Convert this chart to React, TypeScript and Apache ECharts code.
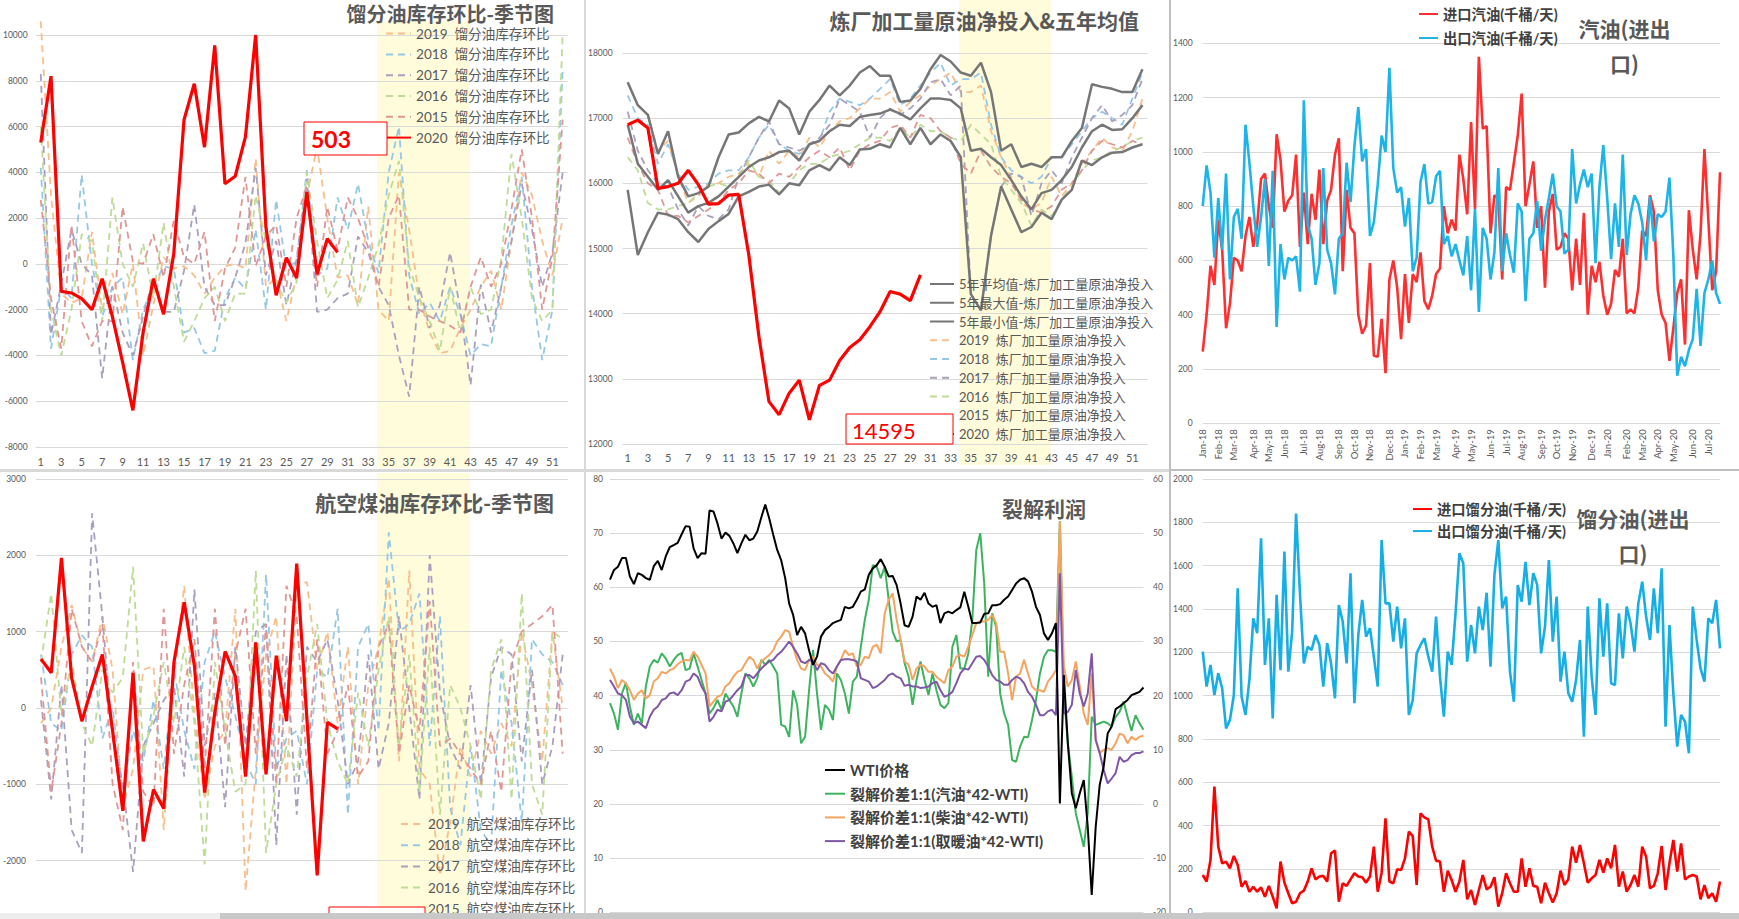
import React, { useEffect, useRef } from 'react';
import * as echarts from 'echarts';

const FONT = "Lato, 'Noto Sans CJK SC', sans-serif";
const CJK = "'Noto Sans CJK SC', Lato, sans-serif";
const GRAY = '#595959';
const GRID = '#D9D9D9';
const BAND = '#FFFCDB';

// ---------- categories ----------
const weekLabels = Array.from({ length: 52 }, (_, i) => String(i + 1));
const MON = ['Jan', 'Feb', 'Mar', 'Apr', 'May', 'Jun', 'Jul', 'Aug', 'Sep', 'Oct', 'Nov', 'Dec'];
const weeklyDates = (n: number) =>
  Array.from({ length: n }, (_, i) => new Date(Date.UTC(2018, 0, 5) + i * 7 * 86400000).toISOString().slice(0, 10));

// ---------- Panel A: 馏分油库存环比 ----------
const dist2020 = [5300, 8200, -1200, -1270, -1520, -2000, -650, -2300, -4300, -6400, -3000, -650, -2200, 450, 6300, 7870, 5100, 9550, 3500, 3830, 5550, 10000, 1600, -1370, 270, -620, 3140, -450, 1100, 503];
const dist2019 = [10600, 3000, -1300, -1700, -1500, 1400, -2000, -400, -2200, 0, -4000, -1800, 300, -200, -100, -500, -1300, -600, -100, 0, -200, 4600, -1000, -600, -2500, -500, 3000, 5100, 2000, -600, -500, -1800, 2500, -2000, -2500, 4000, 1500, -1500, -3000, -3900, -3800, -2800, -2000, -1000, -300, -2000, 1000, 4000, 3000, 1000, -500, 2000];
const dist2018 = [4200, -3700, -1000, -1500, 3900, 0, -2300, -1000, -600, -4200, -2000, -1000, -100, -200, -3000, -2800, -3900, -3800, -1500, -600, -1100, 1500, -2000, 2800, -200, 100, 4100, -500, -200, 2900, 1500, 3500, 1000, -400, 4000, 6000, -500, -2200, -1700, -2500, -1000, -2200, -4000, -3500, -3600, -1000, 1700, 3800, -1000, -4200, -2000, 8500];
const dist2017 = [8300, -3100, -900, 1500, 0, -500, -5000, -1000, -3000, -4000, -2300, -600, -2100, -2100, -300, 2600, -1000, -1800, -1800, -600, 900, 4200, -500, 1000, -1800, 200, 3700, -2100, -2000, -1500, -1300, 1200, 500, -1000, -1800, -4000, -5800, -1000, -2800, -1800, 500, -2000, -5300, -900, -3000, -1000, 1000, 3500, 1500, -1000, 500, 4000];
const dist2016 = [6000, -2000, -4000, -2000, 1300, 1000, -2500, 2900, 0, -1000, 900, -1500, 1800, -1000, -3400, -2500, -1500, -1000, -2500, -1300, -1300, 3000, 1000, -800, -1700, -800, 4000, 1000, -1500, -700, 1000, -1900, -600, 800, 3000, 4500, -100, -1500, -2500, -3800, -1000, -3000, -1000, -2200, -2000, 200, 4800, 2000, -1500, -2500, -2000, 10100];
const dist2015 = [2800, -1500, -3700, 1700, -2500, -3600, -2500, -2500, 2500, 100, 0, 1300, -600, 1900, 300, 0, 1400, -2500, -200, 700, 3800, -100, 1200, 1700, -1000, 2000, 3400, -1000, 2500, 600, 2900, 2000, 700, -1000, 2000, 3000, -2000, -2000, -2300, -2500, -2700, -3000, -1000, 300, -1000, 0, 2400, 5000, 2000, -2000, 300, 6300];

// ---------- Panel B: 炼厂加工量 ----------
const runsAvg = [16900, 16300, 16100, 15900, 16050, 15800, 15550, 15650, 15700, 15800, 15950, 16100, 16250, 16350, 16400, 16480, 16500, 16350, 16600, 16650, 16800, 16900, 16880, 17020, 17050, 17070, 17130, 17070, 16980, 17150, 17300, 17300, 17280, 17150, 16500, 16530, 16400, 16280, 16050, 15800, 15600, 15850, 15900, 16050, 16250, 16550, 16800, 16900, 16820, 16830, 17000, 17200];
const runsMax = [17550, 17200, 17050, 16450, 16800, 16100, 15800, 15850, 15950, 16400, 16750, 16780, 16920, 17020, 16950, 17270, 17150, 16750, 17100, 17280, 17500, 17350, 17500, 17700, 17800, 17650, 17650, 17250, 17270, 17450, 17750, 17970, 17870, 17700, 17650, 17850, 17400, 16500, 16600, 16250, 16300, 16250, 16400, 16400, 16650, 16850, 17520, 17480, 17450, 17400, 17400, 17750];
const runsMin = [15900, 14900, 15250, 15550, 15520, 15450, 15250, 15100, 15300, 15420, 15530, 15800, 15870, 15950, 15980, 15830, 16000, 15970, 16200, 16280, 16200, 16400, 16280, 16520, 16530, 16600, 16550, 16850, 16600, 16850, 16600, 16750, 16650, 16400, 14300, 14050, 15200, 15950, 15600, 15250, 15330, 15550, 15450, 15750, 15900, 16350, 16280, 16400, 16470, 16480, 16550, 16600];
const runs2020 = [16900, 16970, 16850, 15920, 15950, 16000, 16200, 15980, 15680, 15690, 15820, 15830, 14900, 13650, 12650, 12450, 12780, 12980, 12370, 12900, 12980, 13280, 13480, 13600, 13800, 14030, 14340, 14300, 14200, 14595];
const runs2019 = [17550, 17200, 17050, 16500, 16650, 16100, 15700, 15800, 16000, 16000, 16100, 16150, 16300, 16100, 16500, 16300, 16500, 16400, 16700, 16550, 16800, 16950, 17000, 17150, 17300, 17300, 17400, 17100, 17250, 17350, 17500, 17600, 17700, 17400, 17400, 17500, 16800, 16400, 16100, 15700, 15600, 15700, 16100, 15800, 16000, 16300, 16500, 16700, 16550, 16500, 16800, 17300];
const runs2018 = [17350, 17000, 16900, 16300, 16600, 16150, 15900, 15950, 16000, 16150, 16200, 16200, 16400, 16700, 16900, 16600, 16500, 16450, 16600, 16650, 17100, 17300, 17250, 17200, 17300, 17450, 17600, 17200, 17300, 17500, 17700, 17850, 17500, 17600, 17600, 17700, 16900, 16400, 16200, 16100, 16000, 16100, 16400, 16400, 16600, 16800, 17000, 17100, 17000, 16900, 17300, 17700];
const runs2017 = [17100, 16500, 16200, 16000, 15950, 15600, 15350, 15650, 15500, 15450, 15600, 16100, 16400, 16700, 16950, 16600, 16550, 16500, 16600, 16700, 16900, 17300, 17200, 17100, 16700, 17000, 17150, 17050, 17150, 17300, 17550, 17600, 17350, 17500, 14300, 14050, 15200, 15950, 16150, 16100, 15500, 16000, 16200, 16000, 16400, 16700, 17000, 17200, 16950, 17050, 17200, 17600];
const runs2016 = [16400, 16200, 15700, 15600, 15600, 15650, 15700, 15850, 15950, 16000, 15950, 16100, 16350, 16100, 16050, 15850, 16000, 16200, 16300, 16300, 16400, 16450, 16500, 16600, 16700, 16700, 16650, 16850, 16700, 16900, 16800, 16800, 16700, 16650, 16900, 16750, 16600, 16100, 15900, 15700, 15350, 15600, 15500, 15750, 15950, 16200, 16350, 16400, 16500, 16550, 16650, 16700];
const runs2015 = [16700, 16300, 16000, 15900, 15500, 15500, 15400, 15500, 15600, 15700, 15900, 16000, 16200, 16150, 16000, 16150, 16100, 16250, 16400, 16500, 16400, 16550, 16200, 16500, 16600, 16650, 16850, 16900, 16700, 17050, 17000, 16800, 16700, 16300, 16150, 16500, 16250, 16100, 16000, 15750, 15600, 15550, 15650, 15900, 16000, 16200, 16500, 16650, 16600, 16550, 16650, 16600];

// ---------- Panel C: 汽油进出口 ----------
const gasImport = [264, 400, 580, 510, 750, 640, 350, 440, 610, 600, 560, 690, 760, 650, 730, 900, 920, 800, 720, 1065, 970, 780, 820, 840, 990, 650, 850, 660, 845, 750, 935, 660, 820, 860, 990, 1050, 560, 860, 720, 700, 400, 330, 360, 590, 250, 245, 385, 185, 530, 600, 500, 310, 550, 370, 550, 520, 630, 450, 420, 470, 550, 570, 800, 700, 750, 710, 990, 900, 770, 1110, 790, 1350, 1085, 1095, 700, 840, 830, 530, 870, 860, 960, 1060, 1215, 800, 880, 965, 720, 800, 500, 780, 845, 640, 650, 700, 680, 490, 680, 510, 775, 400, 580, 520, 595, 470, 400, 440, 565, 540, 680, 405, 420, 405, 500, 710, 690, 840, 780, 490, 400, 370, 230, 350, 480, 530, 290, 785, 640, 530, 700, 1010, 750, 490, 560, 925];
const gasExport = [800, 950, 850, 610, 830, 640, 920, 530, 760, 790, 680, 1100, 960, 800, 650, 760, 900, 580, 930, 355, 660, 530, 610, 600, 615, 485, 1190, 730, 680, 510, 590, 940, 640, 590, 475, 680, 700, 960, 815, 1020, 1165, 965, 1010, 690, 740, 880, 1060, 1000, 1310, 940, 850, 870, 725, 830, 560, 610, 890, 955, 810, 815, 910, 930, 660, 690, 615, 660, 600, 545, 690, 490, 790, 410, 720, 680, 530, 630, 940, 560, 700, 620, 555, 810, 780, 450, 680, 700, 820, 635, 750, 830, 920, 800, 780, 625, 640, 1010, 810, 880, 935, 870, 920, 590, 870, 1025, 830, 605, 810, 650, 990, 620, 770, 840, 810, 740, 600, 835, 670, 770, 760, 780, 905, 620, 175, 245, 210, 270, 310, 495, 285, 480, 530, 600, 480, 440];

// ---------- Panel D: 航空煤油库存环比 ----------
const jet2020 = [640, 460, 1965, 390, -175, 280, 700, -300, -1350, 460, -1750, -1070, -1320, 600, 1385, 550, -1110, -50, 740, 415, -900, 860, -870, 685, -175, 1890, -150, -2195, -190, -275];
const jet2019 = [-200, 0, 800, 1350, 800, 600, 1200, 500, -1300, -800, 500, 550, -1600, 400, 1600, -100, -1200, -500, -300, 1300, -2400, -800, 700, 1200, -1000, 1600, 1650, 500, 1000, -200, 800, -1000, 300, 800, 1700, -700, 1800, -800, -1000, -2200, -1500, -500, -900, -300, -600, -200, -500, 1000, 300, -700, 1000, 0];
const jet2018 = [700, -200, -300, 700, 950, 800, -400, 0, -1100, -300, -700, 100, -800, 500, -300, -800, 600, 1000, 400, -100, -700, -1000, 1750, -800, -400, -300, -1000, 500, 400, 1300, -1400, 800, 1100, -300, 2300, 1000, 1100, 1500, -500, 1200, -1300, -1800, -500, -1600, -1800, 500, -200, -1500, 900, 700, 600, 300];
const jet2017 = [100, -1200, 300, -1600, -1900, 2550, 1200, -400, -1000, -2150, -500, -200, 100, 300, -900, 1550, -500, 200, -1300, 800, -500, 1000, 1100, -1800, 700, -1400, 800, 600, 900, 100, -1000, -700, 700, -800, -200, 1200, 0, -1200, 2000, 200, -500, -800, 300, -1000, 400, 800, 700, -700, 500, -1000, -500, 700];
const jet2016 = [600, 1500, -100, 600, -200, -500, 500, 200, 400, 1850, -600, -100, 600, -200, 800, -200, -2050, 600, -300, -1100, -1000, 1800, -1900, -1000, -500, -900, 400, 1100, -200, -700, -1000, 200, -500, 500, 1200, -500, 700, -1100, 800, -1400, 300, 0, -500, -1200, 500, 900, -1200, 1500, -1000, -1400, 1000, 900];
const jet2015 = [400, -1100, -200, 1300, 800, 600, 1100, -1000, -1600, 600, -1100, -1300, 1300, -600, 300, 900, -800, 1300, -500, 700, 1300, -600, 1100, -1000, 1600, 1200, -800, 900, -600, -300, 300, -900, -700, 800, 1100, -600, 300, -300, 1400, -500, -400, -600, -800, -1000, -300, -1100, 600, 1000, 1100, 1200, 1350, -600];

// ---------- Panel E: 裂解利润 ----------
const wti = [61.4, 63.2, 63.8, 65.4, 65.4, 62, 60.6, 62.6, 62.3, 61.7, 61.4, 63.9, 64.9, 63.2, 65.7, 67.4, 67.8, 68.2, 69.8, 71.3, 71.2, 67.2, 65.4, 66.3, 66.2, 74.2, 74, 71.8, 69, 70.1, 69.5, 68.1, 66.3, 68.1, 69.7, 68.7, 69, 70.3, 72.9, 75.3, 72.7, 69.7, 66.9, 65, 61.7, 57, 54.9, 51.2, 52.7, 51.5, 48.4, 45.7, 47.2, 50.9, 52.1, 52.7, 53.4, 53.7, 54, 56.4, 56.1, 56.4, 57.7, 59.2, 59.6, 62.3, 63.5, 64.1, 65.2, 63.8, 62, 62.1, 60.4, 57, 53, 52.7, 54.6, 58.3, 57.7, 59, 57, 56.4, 56.7, 53.4, 55.2, 55.5, 55.2, 55.8, 56.3, 59.2, 56.4, 53.4, 53.4, 53.5, 55.1, 55.2, 56.7, 56.7, 56.9, 57.7, 58.3, 59.5, 60.7, 61.4, 61.7, 61.1, 59.2, 56.4, 54.9, 51.5, 50.3, 51.5, 53.4, 20.1, 43.8, 31.2, 22, 19.2, 22, 24.4, 15.8, 3.2, 15.8, 23.5, 26.9, 33, 34.3, 37.5, 38, 38.6, 39.2, 40.1, 40.4, 40.7, 41.5];
const crackGas = [18.6, 16.7, 13.7, 20.4, 22.4, 18, 14.6, 16.7, 14.9, 21.7, 25.4, 26.6, 26.1, 27.8, 26.9, 25.4, 26.6, 27.5, 27.9, 24.7, 25, 27.8, 25.4, 22.9, 20.4, 16.7, 17.7, 19.2, 17.4, 20.4, 19.2, 18, 16.1, 20.4, 24.1, 23.2, 21.7, 23.2, 26.6, 25.7, 26.6, 25.4, 24.1, 14.6, 14.3, 12.4, 21, 18.3, 11.2, 12.4, 21, 28.4, 20.4, 13.7, 18.3, 17.4, 15.5, 24.1, 22.9, 20.4, 16.7, 22.6, 23.5, 29, 34, 37.7, 44.1, 43.8, 41.7, 43.8, 37.7, 31.8, 30, 30.3, 26, 23.5, 18.3, 22.9, 26.3, 22.9, 20.1, 24.1, 21, 18.3, 17.7, 18.6, 29, 31.2, 25, 25, 27.8, 34, 46.9, 50, 40.7, 23.5, 35.2, 32.7, 20.4, 16.7, 14.6, 8.1, 7.8, 10.6, 12.4, 12.3, 15.5, 19.2, 24.1, 27.2, 28.4, 28.4, 28.1, 52.2, 20.4, 11.2, 5, -1.7, -4.8, -7.9, -1.7, 16.1, 14.6, 14.9, 15.2, 14.9, 14.3, 16.1, 17, 18.9, 16.1, 13.5, 16.4, 14.9, 13.7];
const crackDiesel = [25, 23.5, 21.4, 22.9, 22.3, 21, 19.2, 20.4, 21, 19.5, 20.1, 22.6, 23.2, 24.4, 24.1, 24.7, 25, 25.8, 26.3, 26.6, 26.5, 28.1, 27.2, 25.7, 24.1, 18, 18.9, 19.8, 20.1, 21.7, 22.3, 23.5, 24.4, 24.7, 26, 27.2, 26.6, 25, 26.3, 26.9, 27.5, 28.4, 30, 30.9, 32.1, 31.8, 29, 26.6, 25, 24.7, 26.6, 27.2, 25.7, 25.4, 24.1, 23.5, 22.6, 25.4, 26.6, 28.4, 27.5, 27.8, 25.4, 25.7, 27.2, 26.9, 29, 29.4, 27.8, 35.2, 37.7, 38.9, 34, 30.3, 26.3, 25.7, 22.9, 25, 25.7, 25.4, 24.4, 24.4, 23.5, 22.9, 22.3, 24.7, 25.4, 27.2, 27.5, 27.2, 29, 31.2, 33.4, 33.7, 33.7, 34, 34.9, 33.4, 28.1, 28.1, 24.1, 19.2, 23.5, 24.1, 26.6, 24.1, 21.7, 21, 21, 20.7, 22.6, 23.5, 24.7, 52.2, 25.4, 21.7, 22.9, 26.3, 21.7, 16.7, 14.6, 24.1, 11.8, 9.4, 10, 10.3, 10, 11.2, 13, 12.7, 11.2, 12.4, 11.8, 12.4, 12.6];
const crackHeat = [22.9, 21.7, 20.4, 20.1, 19.2, 16.1, 14.9, 15.2, 14.6, 14, 16.1, 17.4, 18, 19.2, 19.5, 20.4, 20.6, 20.1, 21, 22.6, 22.9, 24.1, 23.5, 21.7, 20.4, 15.2, 16.1, 17.4, 17.1, 18.9, 19.2, 20.1, 21, 21.7, 23.8, 23.8, 23.2, 24.1, 25, 25.7, 26.3, 26.6, 27.5, 28.1, 29, 30, 29, 27.8, 26.3, 26, 26.6, 26.3, 24.7, 26, 25.7, 24.7, 24.1, 25.4, 26.6, 26.7, 26.7, 26.6, 26.3, 23.2, 22.9, 22.6, 21.4, 21.7, 22.3, 22.9, 23.8, 24.1, 23.5, 23.2, 21.8, 22, 21.7, 21.7, 21.4, 21.5, 21.7, 22.3, 22.6, 21, 19.8, 20.1, 20.7, 22.3, 24.1, 25, 24.8, 26, 27.2, 27.3, 26.6, 25.4, 23.8, 22.9, 22.6, 22, 22, 22.9, 23.5, 23.2, 22.3, 20.7, 19.8, 18.3, 16.4, 16.4, 17.1, 17.4, 16.4, 42.6, 16.7, 17, 18.3, 24.7, 20.4, 18, 20.4, 27.8, 11.8, 9.4, 6.3, 3.8, 4.7, 5.7, 8.7, 7.8, 8.1, 9, 9.4, 9.4, 9.7];

// ---------- Panel F: 馏分油进出口 ----------
const distImport = [172, 142, 242, 580, 303, 226, 234, 203, 260, 218, 118, 145, 95, 118, 95, 115, 72, 122, 72, 18, 234, 137, 88, 42, 49, 88, 100, 142, 203, 152, 165, 168, 142, 272, 285, 49, 134, 122, 152, 180, 165, 162, 137, 165, 303, 95, 183, 434, 142, 134, 198, 195, 249, 372, 352, 126, 457, 438, 429, 303, 238, 234, 95, 192, 149, 95, 142, 242, 60, 103, 34, 103, 172, 106, 118, 162, 26, 88, 180, 134, 95, 95, 249, 118, 203, 122, 118, 42, 137, 88, 45, 88, 192, 126, 152, 303, 229, 311, 226, 137, 157, 172, 242, 183, 249, 203, 311, 118, 188, 95, 126, 172, 118, 303, 257, 111, 122, 180, 306, 103, 226, 334, 188, 318, 152, 165, 172, 165, 60, 126, 65, 88, 49, 142];
const distExport = [1203, 1042, 1142, 1003, 1103, 1034, 849, 888, 1003, 1495, 995, 911, 1072, 1357, 1288, 1726, 1142, 1357, 895, 1465, 1118, 1665, 1111, 1295, 1841, 1472, 1149, 1226, 1211, 1280, 1234, 1042, 1242, 1149, 988, 1418, 1341, 1149, 1565, 965, 1280, 1442, 1272, 1311, 1180, 1042, 1718, 1426, 1426, 1249, 1411, 1218, 1357, 911, 980, 1195, 1234, 1265, 1180, 1111, 1365, 1088, 903, 1203, 1142, 1380, 1657, 1611, 1157, 1326, 1195, 1411, 1303, 1475, 1134, 1557, 1718, 1403, 1457, 1111, 972, 1511, 1434, 1618, 1418, 1565, 1511, 1195, 1318, 1626, 1249, 1457, 1065, 1203, 1011, 972, 1072, 1257, 811, 1411, 1088, 911, 1449, 1180, 1426, 1057, 1049, 1380, 1172, 1411, 1334, 1203, 1426, 1526, 1365, 1257, 1495, 1288, 1588, 857, 1326, 1011, 765, 911, 880, 734, 1411, 1257, 1126, 1065, 1357, 1334, 1442, 1218];

// ---------- helpers ----------
const YC = { y2019: '#F8BE8C', y2018: '#96C8E6', y2017: '#AAA0BE', y2016: '#BEDC96', y2015: '#E19696' };

const dashed = (name: string, data: number[], color: string) => ({
  name, type: 'line', data, symbol: 'none', clip: false, z: 2,
  lineStyle: { color, width: 1.8, type: [7, 5] }, itemStyle: { color },
});
const solid = (name: string, data: number[], color: string, width: number, extra: any = {}) => ({
  name, type: 'line', data, symbol: 'none', clip: false, z: 3,
  lineStyle: { color, width }, itemStyle: { color }, ...extra,
});
const bandSeries = (cats: string[], from: string, to: string) => ({
  type: 'line', xAxisIndex: 1, yAxisIndex: 1, data: cats.map(() => null), symbol: 'none', silent: true, z: -1,
  markArea: { z: -1, silent: true, itemStyle: { color: BAND, opacity: 1 }, data: [[{ xAxis: from }, { xAxis: to }]] },
});
const txt = (x: number, y: number, text: string, font: string, fill: string, align = 'left', lineHeight?: number) => ({
  type: 'text', x, y, z: 100,
  style: { text, font, fill, align, textAlign: align, verticalAlign: 'middle', textVerticalAlign: 'middle', lineHeight },
});
const box = (x: number, y: number, w: number, h: number) => ({
  type: 'rect', z: 99, shape: { x, y, width: w, height: h },
  style: { fill: '#FFFFFF', stroke: '#FF0000', lineWidth: 1 },
});
const valAxis = (min: number, max: number, interval: number, margin: number, extra: any = {}) => ({
  type: 'value', min, max, interval,
  axisLine: { show: false }, axisTick: { show: false },
  axisLabel: { fontSize: 8.5, color: GRAY, margin, fontFamily: FONT, formatter: (v: number) => String(v) },
  splitLine: { lineStyle: { color: GRID, width: 1 } },
  ...extra,
});
const legendCfg = (left: number, top: number, data: string[], fontSize: number, gap: number, itemWidth: number, color: string, bold = false) => ({
  orient: 'vertical', left, top, data, itemWidth, itemHeight: 10, itemGap: gap, padding: 0,
  itemStyle: { opacity: 0 },
  textStyle: { fontSize, color, fontFamily: FONT, lineHeight: fontSize, fontWeight: bold ? 'bold' : 'normal' },
  selectedMode: false,
});

// ---------- options ----------
function seasonalDistOption() {
  const grid = { left: 31.8, right: 16.2 };
  const names = ['2019  馏分油库存环比', '2018  馏分油库存环比', '2017  馏分油库存环比', '2016  馏分油库存环比', '2015  馏分油库存环比', '2020  馏分油库存环比'];
  return {
    animation: false,
    textStyle: { fontFamily: FONT },
    grid: [{ ...grid, top: 35, bottom: 23 }, { ...grid, top: 21, bottom: 2 }],
    xAxis: [
      { type: 'category', data: weekLabels, axisLine: { show: false }, axisTick: { show: false },
        axisLabel: { interval: 1, fontSize: 11, color: GRAY, margin: 8.5 } },
      { gridIndex: 1, type: 'category', data: weekLabels, show: false },
    ],
    yAxis: [valAxis(-8000, 10000, 2000, 8), { gridIndex: 1, type: 'value', min: 0, max: 1, show: false }],
    legend: legendCfg(385, 26.8, names, 13.6, 7.2, 25, GRAY),
    series: [
      bandSeries(weekLabels, '34', '43'),
      dashed(names[0], dist2019, YC.y2019),
      dashed(names[1], dist2018, YC.y2018),
      dashed(names[2], dist2017, YC.y2017),
      dashed(names[3], dist2016, YC.y2016),
      dashed(names[4], dist2015, YC.y2015),
      solid(names[5], dist2020, '#FF0000', 3.2),
    ],
    graphic: [
      txt(554, 13, '馏分油库存环比-季节图', `bold 20px ${CJK}`, GRAY, 'right', 20),
      box(304, 122, 83, 33),
      txt(311, 139, '503', `bold 23px ${FONT}`, '#FF0000'),
    ],
  };
}

function runsOption() {
  const grid = { left: 33.1, right: 21.5 };
  const names = ['5年平均值-炼厂加工量原油净投入', '5年最大值-炼厂加工量原油净投入', '5年最小值-炼厂加工量原油净投入',
    '2019  炼厂加工量原油净投入', '2018  炼厂加工量原油净投入', '2017  炼厂加工量原油净投入', '2016  炼厂加工量原油净投入',
    '2015  炼厂加工量原油净投入', '2020  炼厂加工量原油净投入'];
  const g = '#767676';
  return {
    animation: false,
    textStyle: { fontFamily: FONT },
    grid: [{ ...grid, top: 53, bottom: 26 }, { ...grid, top: 0, bottom: 5 }],
    xAxis: [
      { type: 'category', data: weekLabels, axisLine: { show: false }, axisTick: { show: false },
        axisLabel: { interval: 1, fontSize: 11, color: GRAY, margin: 8 } },
      { gridIndex: 1, type: 'category', data: weekLabels, show: false },
    ],
    yAxis: [valAxis(12000, 18000, 1000, 10), { gridIndex: 1, type: 'value', min: 0, max: 1, show: false }],
    legend: legendCfg(344, 277.5, names, 13, 5.75, 24, GRAY),
    series: [
      bandSeries(weekLabels, '34', '43'),
      dashed(names[3], runs2019, YC.y2019),
      dashed(names[4], runs2018, YC.y2018),
      dashed(names[5], runs2017, YC.y2017),
      dashed(names[6], runs2016, YC.y2016),
      dashed(names[7], runs2015, YC.y2015),
      solid(names[0], runsAvg, g, 2.5),
      solid(names[1], runsMax, g, 2.5),
      solid(names[2], runsMin, g, 2.5),
      solid(names[8], runs2020, '#FF0000', 3.2),
    ],
    graphic: [
      txt(554, 20, '炼厂加工量原油净投入&五年均值', `bold 21px ${CJK}`, GRAY, 'right', 21),
      box(261, 414, 107, 30),
      txt(267, 430, '14595', `22px ${FONT}`, '#FF0000'),
    ],
  };
}

function flowOption(dates: string[], imp: number[], exp: number[], names: string[], title: string, opts: any) {
  return {
    animation: false,
    textStyle: { fontFamily: FONT },
    grid: { left: 28, right: 19, top: opts.top, bottom: opts.bottom },
    xAxis: {
      type: 'category', data: dates, boundaryGap: false,
      axisLine: { show: false }, axisTick: { show: false },
      axisLabel: {
        show: opts.showX, rotate: 90, fontSize: 9.5, color: GRAY, margin: 6,
        interval: (i: number, v: string) => i === 0 || v.slice(5, 7) !== dates[i - 1].slice(5, 7),
        formatter: (v: string) => MON[Number(v.slice(5, 7)) - 1] + '-' + v.slice(2, 4),
      },
    },
    yAxis: valAxis(0, opts.max, 200, 10),
    legend: legendCfg(opts.legLeft, opts.legTop, names, 14.3, opts.legGap, 19, '#404040', true),
    series: [
      solid(names[0], imp, opts.red, 2.6),
      solid(names[1], exp, opts.blue, 2.6),
    ],
    graphic: [txt(opts.titleX, opts.titleY, title, `bold 21px ${CJK}`, GRAY, 'center', 35)],
  };
}

function jetOption() {
  const grid = { left: 31.8, right: 16.2 };
  const names = ['2019  航空煤油库存环比', '2018  航空煤油库存环比', '2017  航空煤油库存环比', '2016  航空煤油库存环比', '2015  航空煤油库存环比', '2020  航空煤油库存环比'];
  const y = valAxis(-3000, 3000, 1000, 10);
  y.axisLabel = { ...y.axisLabel, showMinLabel: false } as any;
  return {
    animation: false,
    textStyle: { fontFamily: FONT },
    grid: [{ ...grid, top: 8, bottom: 34.2 }, { ...grid, top: 2, bottom: 34.2 }],
    xAxis: [
      { type: 'category', data: weekLabels, axisLine: { show: false }, axisTick: { show: false }, axisLabel: { show: false } },
      { gridIndex: 1, type: 'category', data: weekLabels, show: false },
    ],
    yAxis: [y, { gridIndex: 1, type: 'value', min: 0, max: 1, show: false }],
    legend: legendCfg(400, 346.2, names, 13.6, 7.6, 22, GRAY),
    series: [
      bandSeries(weekLabels, '34', '43'),
      dashed(names[0], jet2019, YC.y2019),
      dashed(names[1], jet2018, YC.y2018),
      dashed(names[2], jet2017, YC.y2017),
      dashed(names[3], jet2016, YC.y2016),
      dashed(names[4], jet2015, YC.y2015),
      solid(names[5], jet2020, '#FF0000', 3.2),
    ],
    graphic: [
      txt(554, 31, '航空煤油库存环比-季节图', `bold 21px ${CJK}`, GRAY, 'right', 21),
      box(329, 436, 96, 33),
    ],
  };
}

function crackOption() {
  const cats = wti.map((_, i) => String(i));
  const names = ['WTI价格', '裂解价差1:1(汽油*42-WTI)', '裂解价差1:1(柴油*42-WTI)', '裂解价差1:1(取暖油*42-WTI)'];
  return {
    animation: false,
    textStyle: { fontFamily: FONT },
    grid: { left: 25, right: 21.5, top: 8, bottom: 6.7 },
    xAxis: { type: 'category', data: cats, boundaryGap: false, axisLine: { show: false }, axisTick: { show: false }, axisLabel: { show: false } },
    yAxis: [
      valAxis(0, 80, 10, 7),
      valAxis(-20, 60, 10, 9.5, { position: 'right', splitLine: { show: false } }),
    ],
    legend: legendCfg(239, 291.5, names, 15, 8.7, 20, '#404040', true),
    series: [
      solid(names[1], crackGas, '#3DB35F', 2, { yAxisIndex: 1 }),
      solid(names[2], crackDiesel, '#F4A460', 2, { yAxisIndex: 1 }),
      solid(names[3], crackHeat, '#7F57A6', 2, { yAxisIndex: 1 }),
      solid(names[0], wti, '#000000', 2, { yAxisIndex: 0 }),
    ],
    graphic: [txt(459, 37, '裂解利润', `bold 21px ${CJK}`, GRAY, 'center', 21)],
  };
}

// ---------- components ----------
function Chart({ left, top, width, height, option }: any) {
  const ref = useRef<HTMLDivElement>(null);
  useEffect(() => {
    const c = echarts.init(ref.current as HTMLDivElement, null, { renderer: 'svg' });
    c.setOption(option);
    return () => c.dispose();
  }, []);
  return <div ref={ref} style={{ position: 'absolute', left, top, width, height }} />;
}

export default function App() {
  useEffect(() => {
    document.body.style.margin = '0';
  }, []);
  const gasDates = weeklyDates(gasImport.length);
  const distDates = weeklyDates(distImport.length);
  const line = (l: number, t: number, w: number, h: number, c: string) => (
    <div style={{ position: 'absolute', left: l, top: t, width: w, height: h, background: c }} />
  );
  return (
    <div style={{ position: 'fixed', left: 0, top: 0, width: 1739, height: 919, overflow: 'hidden', background: '#fff' }}>
      <Chart left={0} top={0} width={584} height={470} option={seasonalDistOption()} />
      <Chart left={585} top={0} width={584} height={470} option={runsOption()} />
      <Chart left={1170} top={0} width={569} height={470}
        option={flowOption(gasDates, gasImport, gasExport, ['进口汽油(千桶/天)', '出口汽油(千桶/天)'], '汽油(进出\n口)',
          { top: 43.3, bottom: 46.7, max: 1400, showX: true, legLeft: 248, legTop: 6.85, legGap: 9.7, titleX: 454.5, titleY: 45.5, red: '#FF2F2F', blue: '#1EB4E8' })} />
      <Chart left={0} top={471} width={584} height={500} option={jetOption()} />
      <Chart left={585} top={471} width={584} height={448} option={crackOption()} />
      <Chart left={1170} top={471} width={569} height={448}
        option={flowOption(distDates, distImport, distExport, ['进口馏分油(千桶/天)', '出口馏分油(千桶/天)'], '馏分油(进出\n口)',
          { top: 8, bottom: 6.7, max: 2000, showX: false, legLeft: 242, legTop: 30.9, legGap: 7.7, titleX: 463, titleY: 64.5, red: '#FF0000', blue: '#17AEE6' })} />
      {line(583.5, 0, 2, 913, '#D9D9D9')}
      {line(1168.5, 0, 2, 913, '#BFBFBF')}
      {line(0, 469, 1169, 2.5, '#D9D9D9')}
      {line(1169, 469, 570, 2, '#BFBFBF')}
      {line(0, 913, 220, 6, '#EDEDED')}
      {line(220, 913, 1519, 6, '#C8C8C8')}
    </div>
  );
}
